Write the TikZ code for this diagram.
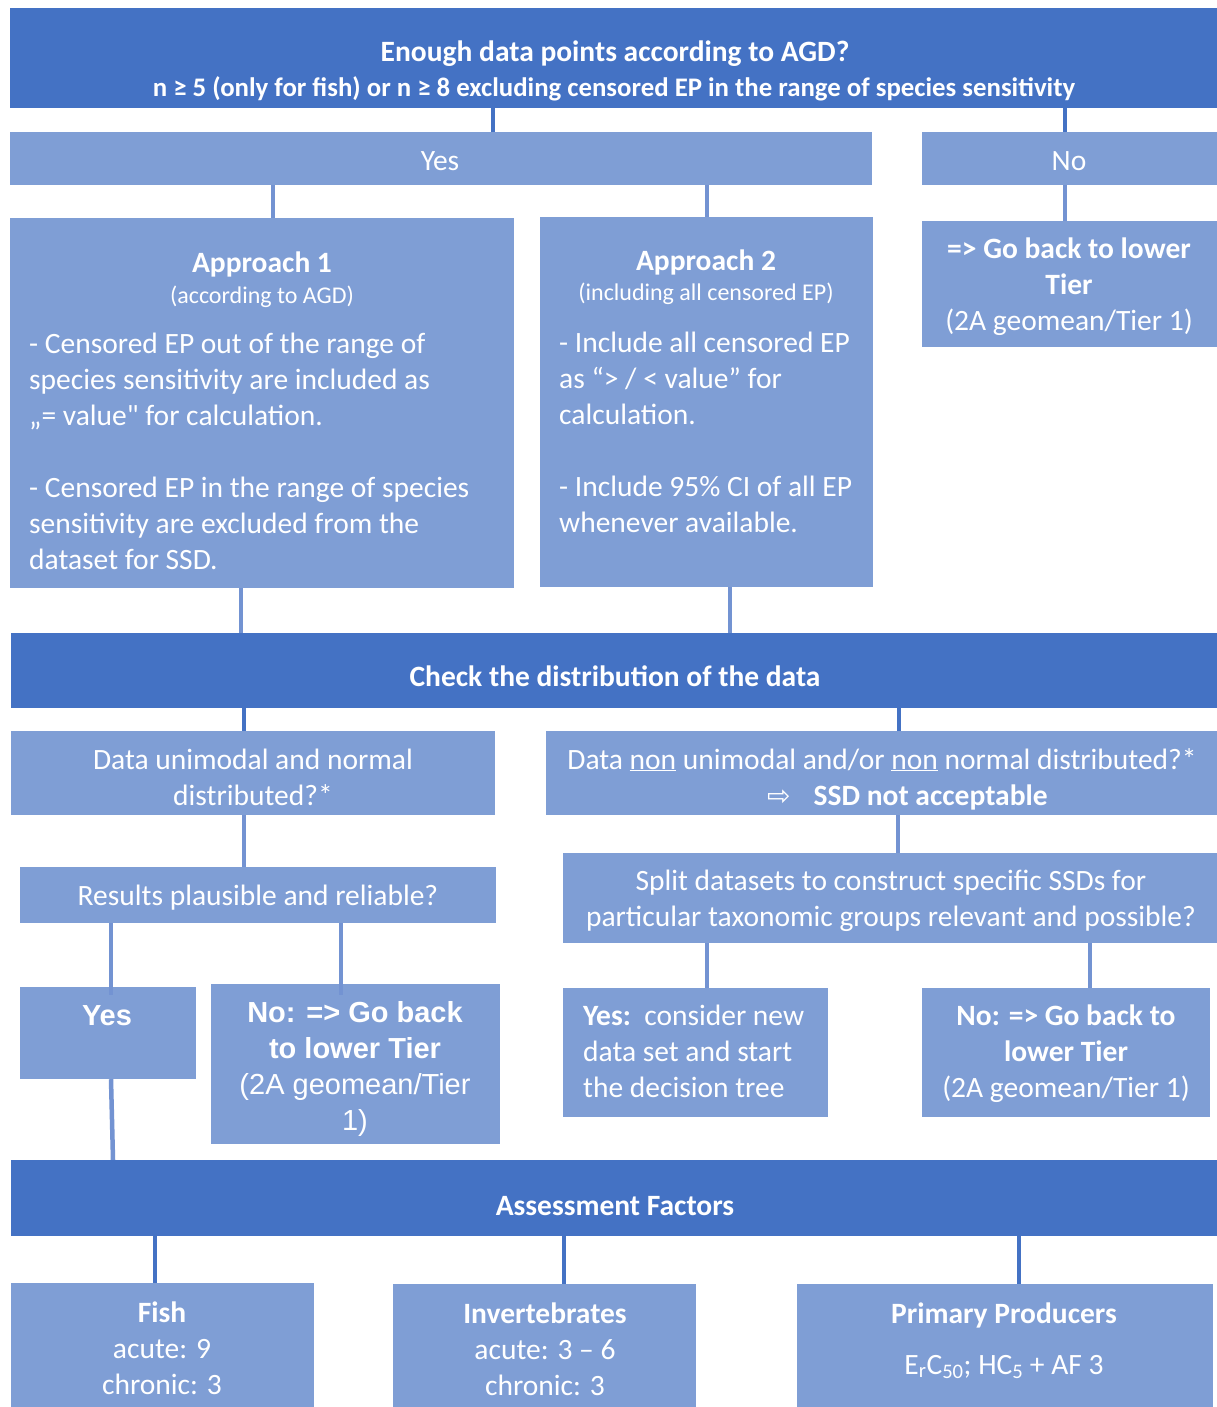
\documentclass[tikz,border=0pt]{standalone}
\usepackage{fontspec}
\setmainfont{Carlito}
\newfontfamily\carq{Carlito}[Ligatures=ResetAll]
\newfontfamily\arialf{Liberation Sans}
\newfontfamily\djv{DejaVu Sans}
\usetikzlibrary{fit}
\definecolor{dk}{HTML}{4472C4}
\definecolor{lt}{HTML}{7F9ED5}
\definecolor{lc}{HTML}{7393D2}
\begin{document}
\begin{tikzpicture}[x=1pt,y=-1pt,
  dbox/.style={fill=dk, inner sep=0pt, draw=none},
  lbox/.style={fill=lt, inner sep=0pt, draw=none},
  dline/.style={draw=dk, line width=4pt},
  lline/.style={draw=lc, line width=4.5pt},
  txt/.style={text=white, inner sep=0pt, font=\fontsize{29.5}{36}\selectfont, align=center, anchor=base},
  ltxt/.style={text=white, inner sep=0pt, font=\fontsize{29.5}{36}\selectfont, align=left, anchor=base west},
  ]
\fill[white] (0,0) rectangle (1217,1407);
\useasboundingbox (0,0) rectangle (1217,1407);

% boxes
\node[dbox, fit={(10,8) (1217,108)}] (hdr) {};
\node[lbox, fit={(10,132) (872,185)}] (yes) {};
\node[lbox, fit={(922,132) (1217,185)}] (no) {};
\node[lbox, fit={(10,218) (514,588)}] (a1) {};
\node[lbox, fit={(540,217) (873,587)}] (a2) {};
\node[lbox, fit={(922,221) (1217,347)}] (gb) {};
\node[dbox, fit={(11,633) (1217,708)}] (chk) {};
\node[lbox, fit={(11,731) (495,815)}] (uni) {};
\node[lbox, fit={(546,731) (1217,815)}] (non) {};
\node[lbox, fit={(20,867) (496,923)}] (res) {};
\node[lbox, fit={(20,987) (196,1079)}] (ys) {};
\node[lbox, fit={(211,984) (500,1144)}] (nb) {};
\node[lbox, fit={(563,853) (1217,943)}] (spl) {};
\node[lbox, fit={(563,988) (828,1117)}] (ysp) {};
\node[lbox, fit={(922,988) (1210,1117)}] (nsp) {};
\node[dbox, fit={(11,1160) (1217,1236)}] (af) {};
\node[lbox, fit={(11,1283) (314,1407)}] (fish) {};
\node[lbox, fit={(393,1284) (696,1407)}] (inv) {};
\node[lbox, fit={(797,1284) (1213,1407)}] (pp) {};

% connectors
\draw[dline] (493,0 |- hdr.south) -- (493,0 |- yes.north);
\draw[dline] (1065,0 |- hdr.south) -- (1065,0 |- no.north);
\draw[lline] (273,0 |- yes.south) -- (273,0 |- a1.north);
\draw[lline] (707,0 |- yes.south) -- (707,0 |- a2.north);
\draw[lline] (1065,0 |- no.south) -- (1065,0 |- gb.north);
\draw[lline] (241,0 |- a1.south) -- (241,0 |- chk.north);
\draw[lline] (730,0 |- a2.south) -- (730,0 |- chk.north);
\draw[dline] (244,0 |- chk.south) -- (244,0 |- uni.north);
\draw[dline] (899,0 |- chk.south) -- (899,0 |- non.north);
\draw[lline] (244,0 |- uni.south) -- (244,0 |- res.north);
\draw[lline] (111,0 |- res.south) -- (111,995);
\draw[lline] (341,0 |- res.south) -- (341,995);
\draw[lline] (898,0 |- non.south) -- (898,0 |- spl.north);
\draw[lline] (707,0 |- spl.south) -- (707,0 |- ysp.north);
\draw[lline] (1090,0 |- spl.south) -- (1090,0 |- nsp.north);
\draw[lline] (111,0 |- ys.south) -- (113,0 |- af.north);
\draw[dline] (155,0 |- af.south) -- (155,0 |- fish.north);
\draw[dline] (564,0 |- af.south) -- (564,0 |- inv.north);
\draw[dline] (1019,0 |- af.south) -- (1019,0 |- pp.north);

% texts (anchor base = baseline of the last line)
\node[txt, font=\bfseries\fontsize{29.5}{35}\selectfont] (thdr1) at (615,62) {Enough data points according to AGD?};
\node[txt, font=\bfseries\fontsize{26.8}{35}\selectfont] (thdr2) at (614,97) {n ≥ 5 (only for fish) or n ≥ 8 excluding censored EP in the range of species sensitivity};
\node[txt] (tyes) at (440,171) {Yes};
\node[txt] (tno) at (1069,171) {No};

\node[txt, font=\bfseries\fontsize{29.5}{36}\selectfont] (ta1) at (262,272) {Approach 1};
\node[txt, font=\fontsize{24}{30}\selectfont] (ta1s) at (262,303) {(according to AGD)};
\node[ltxt] (ta1b) at (29,569) {- Censored EP out of the range of\\species sensitivity are included as\\„= value{\carq"} for calculation.\\\mbox{}\\- Censored EP in the range of species\\sensitivity are excluded from the\\dataset for SSD.};

\node[txt, font=\bfseries\fontsize{29.5}{36}\selectfont] (ta2) at (706,270) {Approach 2};
\node[txt, font=\fontsize{24}{30}\selectfont] (ta2s) at (706,300) {(including all censored EP)};
\node[ltxt] (ta2b) at (559,532) {- Include all censored EP\\as “> / < value” for\\calculation.\\\mbox{}\\- Include 95\% CI of all EP\\whenever available.};

\node[txt] (tgb) at (1069,330) {\textbf{=> Go back to lower}\\\textbf{Tier}\\(2A geomean/Tier 1)};

\node[txt, font=\bfseries\fontsize{29.5}{36}\selectfont] (tchk) at (615,686) {Check the distribution of the data};

\node[txt] (tuni) at (253,805) {Data unimodal and normal\\distributed?*};
\node[txt] (tnon1) at (882,769) {Data \underline{non} unimodal and/or \underline{non} normal distributed?*};
\begin{scope}
\clip (546,731) rectangle (1217,815);
\node[ltxt] (tnon2) at (767,805) {{\djv\fontsize{28}{30}\selectfont ⇨}\hspace{23pt}\textbf{SSD not acceptable}};
\end{scope}

\node[txt] (tres) at (258,905) {Results plausible and reliable?};
\node[txt, font=\arialf\bfseries\fontsize{29}{36}\selectfont] (tys) at (107,1025) {Yes};
\node[txt, font=\arialf\fontsize{29}{36}\selectfont] (tnb) at (355,1130) {\textbf{No: => Go back}\\\textbf{to lower Tier}\\(2A geomean/Tier\\1)};

\node[txt] (tspl) at (891,926) {Split datasets to construct specific SSDs for\\particular taxonomic groups relevant and possible?};
\node[ltxt] (tysp) at (583,1097) {\textbf{Yes:}\ \ consider new\\data set and start\\the decision tree};
\node[txt] (tnsp) at (1066,1097) {\textbf{No: => Go back to}\\\textbf{lower Tier}\\(2A geomean/Tier 1)};

\node[txt, font=\bfseries\fontsize{29.5}{36}\selectfont] (taf) at (615,1215) {Assessment Factors};
\node[txt] (tfish) at (162,1394) {\textbf{Fish}\\acute: 9\\chronic: 3};
\node[txt] (tinv) at (545,1395) {\textbf{Invertebrates}\\acute: 3 – 6\\chronic: 3};
\node[txt, font=\bfseries\fontsize{29.5}{36}\selectfont] (tpp1) at (1004,1323) {Primary Producers};
\node[txt] (tpp2) at (1004,1374) {E\textsubscript{r}C\textsubscript{50}; HC\textsubscript{5} + AF 3};
\end{tikzpicture}
\end{document}
